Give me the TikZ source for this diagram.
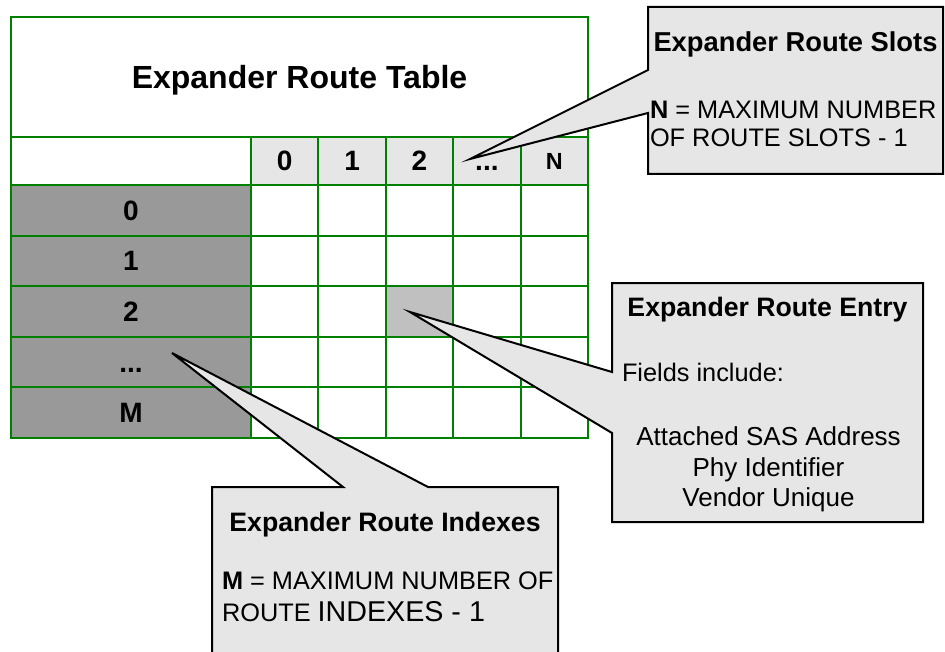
\documentclass[tikz,border=0pt]{standalone}
\usepackage{fontspec}
\setmainfont{Liberation Sans}
\definecolor{gridgreen}{HTML}{008000}
\definecolor{indexgray}{HTML}{999999}
\definecolor{slotgray}{HTML}{E6E6E6}
\definecolor{entrygray}{HTML}{C0C0C0}
\definecolor{notegray}{HTML}{E6E6E6}
\newcommand{\celldots}{...}

\begin{document}
\begin{tikzpicture}[x=0.75pt,y=-0.75pt,inner sep=0pt,outer sep=0pt,line width=1.5pt,
cell/.style={draw=gridgreen,rectangle,minimum width=50.55pt,minimum height=37.95pt,text height=15pt,text depth=0pt,font=\fontsize{21}{24}\selectfont\bfseries},
slotcell/.style={cell,fill=slotgray,minimum height=36pt},
indexcell/.style={cell,fill=indexgray,minimum width=180pt},
note/.style={draw=black,fill=notegray,line width=1.5pt},
notehead/.style={anchor=base,font=\fontsize{20}{24}\selectfont\bfseries},
notetext/.style={anchor=base west,font=\fontsize{19}{23}\selectfont},
noteline/.style={anchor=base,font=\fontsize{19.5}{23}\selectfont}]

\useasboundingbox (0,0) rectangle (945,652);

\node[cell,minimum width=432.75pt,minimum height=90pt,text height=17.2pt,font=\fontsize{24}{28}\selectfont\bfseries] (table) at (299.5,77) {Expander Route Table};
\node[cell,minimum width=180pt,minimum height=36pt] (corner) at (131,161) {};
\foreach \lab [count=\c from 0] in {0,1,2,\celldots}
  \node[slotcell] (slot\c) at ({284.7+67.4*\c},161) {\lab};
\node[slotcell,text height=12.4pt,font=\fontsize{17.5}{20}\selectfont\bfseries] (slot4) at (554.3,161) {N};
\foreach \lab [count=\r from 0] in {0,1,2,\celldots,M}
  \node[indexcell] (index\r) at (131,{210.3+50.6*\r}) {\lab};
\foreach \c in {0,...,4}
  \foreach \r in {0,...,4}
    \node[cell] (cell\c-\r) at ({284.7+67.4*\c},{210.3+50.6*\r}) {};
\node[cell,fill=entrygray] (entry) at (cell2-2) {};

\coordinate (slotstip) at (470,159);
\coordinate (entrytip) at (410,312);
\coordinate (indextip) at (172,353);

\draw[note] (648,7) -- (943,7) -- (943,174) -- (648,174) -- (648,113) -- (slotstip) -- (648,70) -- cycle;
\node[notehead,font=\fontsize{20.5}{24}\selectfont\bfseries] (slotshead) at (795.5,52) {Expander Route Slots};
\node[notetext] (slotsmax) at (650,119) {\textbf{N} = MAXIMUM NUMBER};
\node[notetext] (slotsof) at (650,147) {OF ROUTE SLOTS - 1};

\draw[note] (612,283) -- (923,283) -- (923,522) -- (612,522) -- (612,433) -- (entrytip) -- (612,372) -- cycle;
\node[notehead] (entryhead) at (767.5,316) {Expander Route Entry};
\node[notetext] (entryfields) at (622,381) {Fields include:};
\node[noteline] (entrysas) at (768.5,445) {Attached SAS Address};
\node[noteline] (entryphy) at (768.5,476) {Phy Identifier};
\node[noteline] (entryvendor) at (768.5,506) {Vendor Unique};

\begin{scope}
\clip (0,0) rectangle (945,652);
\draw[note] (212,665) -- (212,487) -- (343,487) -- (indextip) -- (428,487) -- (558,487) -- (558,665) -- cycle;
\end{scope}
\node[notehead] (indexhead) at (385,531) {Expander Route Indexes};
\node[notetext] (indexmax) at (222,589) {\textbf{M} = MAXIMUM NUMBER OF};
\node[notetext] (indexof) at (222,621) {ROUTE {\fontsize{21.5}{24}\selectfont INDEXES - 1}};
\end{tikzpicture}
\end{document}
